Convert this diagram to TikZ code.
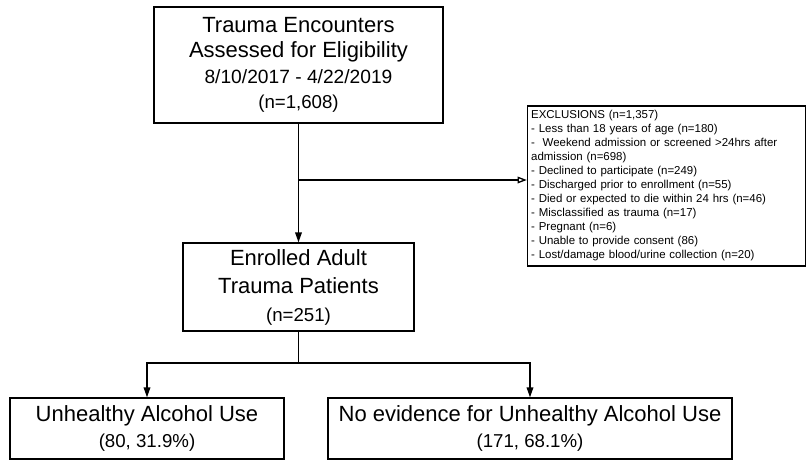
\documentclass[tikz,border=0pt]{standalone}
\usepackage{fontspec}
\setmainfont{Liberation Sans}
\usetikzlibrary{positioning,arrows.meta}

\begin{document}
\begin{tikzpicture}[x=0.75pt, y=-0.75pt, line width=1pt,
		box/.style={draw, rectangle, inner sep=0pt, align=center, font=\fontsize{16.5}{19}\selectfont},
		small/.style={font=\fontsize{14}{19}\selectfont},
		flow/.style={-{Triangle[length=7.5pt,width=5pt]}},
		excl/.style={-{Triangle[open,length=7pt,width=5pt]}}]
			\useasboundingbox (0,0) rectangle (808,462);

			\node[box, minimum width=216.75pt, minimum height=87pt] (enc) at (298.5,65)
				{Trauma Encounters\\Assessed for Eligibility\\{\fontsize{14.4}{19}\selectfont 8/10/2017 - 4/22/2019}\\{\fontsize{14}{19}\selectfont (n=1,608)}};
			\node[box, minimum width=173.25pt, minimum height=66pt, font=\fontsize{16.5}{21}\selectfont] (enr) at (298.5,287)
				{Enrolled Adult\\Trauma Patients\\{\fontsize{14}{21}\selectfont (n=251)}};
			\node[draw, rectangle, inner xsep=2.75pt, inner ysep=0pt, text width=203pt, minimum height=120pt, align=left,
				font=\fontsize{8.6}{10.5}\selectfont] (exc) at (666.5,186)
				{EXCLUSIONS (n=1,357)\\
				- Less than 18 years of age (n=180)\\
				-\ \ Weekend admission or screened >24hrs after\\
				admission (n=698)\\
				- Declined to participate (n=249)\\
				- Discharged prior to enrollment (n=55)\\
				- Died or expected to die within 24 hrs (n=46)\\
				- Misclassified as trauma (n=17)\\
				- Pregnant (n=6)\\
				- Unable to provide consent (86)\\
				- Lost/damage blood/urine collection (n=20)};
			\node[box, minimum width=205.5pt, minimum height=45.75pt, font=\fontsize{16.5}{19.5}\selectfont] (unh) at (147,428.5)
				{Unhealthy Alcohol Use\\{\fontsize{14}{19.5}\selectfont (80, 31.9\%)}};
			\node[box, minimum width=303pt, minimum height=45.75pt, font=\fontsize{16.5}{19.5}\selectfont] (noev) at (530,428.5)
				{No evidence for Unhealthy Alcohol Use\\{\fontsize{14}{19.5}\selectfont (171, 68.1\%)}};

			\coordinate (split) at (298.5,180);
			\coordinate (fork) at (298.5,363);

			\draw[flow] (enc) -- (enr);
			\draw[excl] (split) -- (split -| exc.west);
			\draw (enr) -- (fork);
			\draw[flow] (fork) -| (unh);
			\draw[flow] (fork) -| (noev);
		\end{tikzpicture}
\end{document}
